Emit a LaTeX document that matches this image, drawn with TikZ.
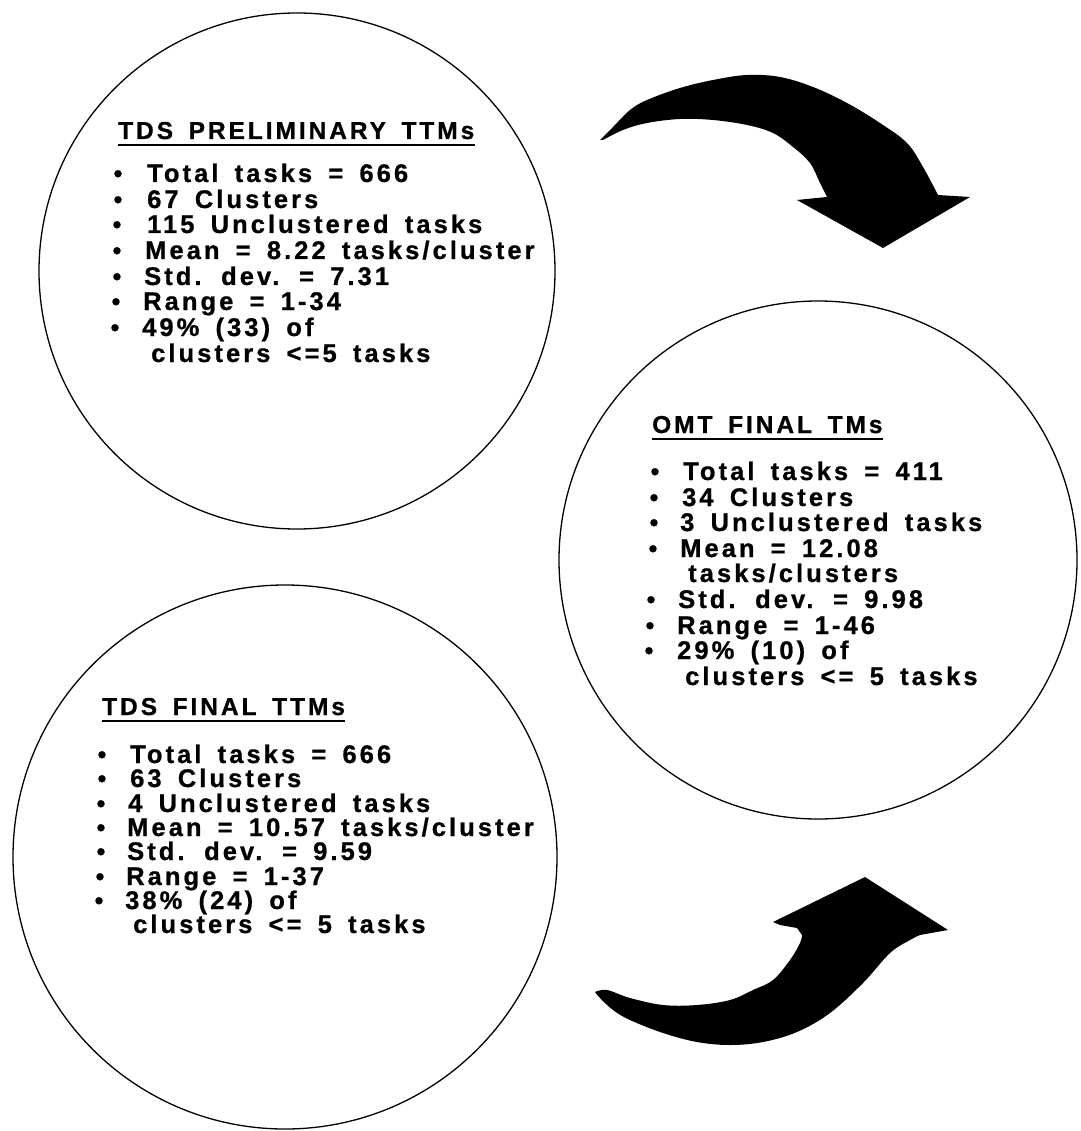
\documentclass[tikz,border=0pt]{standalone}
\usepackage{fontspec}
\newfontfamily\lsb[LetterSpace=12, WordSpace=1.6, BoldFeatures={FakeBold=0.8}]{Liberation Sans}
\tikzset{
  ring/.style={circle, draw=black, line width=1.3pt, inner sep=0pt},
  head/.style={font=\lsb\bfseries\fontsize{24.5}{25}\selectfont, anchor=base west, inner sep=0pt},
  item/.style={font=\lsb\bfseries\fontsize{25.5}{25}\selectfont, anchor=base west, inner sep=0pt},
  bul/.style={font=\lsb\bfseries\fontsize{25}{25}\selectfont, anchor=base, inner sep=0pt},
  uline/.style={line width=2.4pt},
  blob/.style={fill=black}
}
\begin{document}
\begin{tikzpicture}[x=1pt,y=-1pt]
\fill[white] (0,0) rectangle (1080,1131);
\useasboundingbox (0,0) rectangle (1080,1131);

% circles
\node[ring, minimum size=516pt] (c1) at (297,271) {};
\node[ring, minimum size=518pt] (c2) at (818,560) {};
\node[ring, minimum size=544pt] (c3) at (285,857) {};

% ---- circle 1
\node[head] (h1) at (118,139) {TDS PRELIMINARY TTMs};
\draw[uline] ([yshift=-6pt]h1.base west) -- ([yshift=-6pt]h1.base east);
\node[bul] (b1a) at (118,182) {•};
\node[item] (t1a) at (147,182) {Total tasks = 666};
\node[bul] (b1b) at (118,208) {•};
\node[item] (t1b) at (147,208) {67 Clusters};
\node[bul] (b1c) at (117,233) {•};
\node[item] (t1c) at (147,233) {115 Unclustered tasks};
\node[bul] (b1d) at (117,259) {•};
\node[item] (t1d) at (145,259) {Mean = 8.22 tasks/cluster};
\node[bul] (b1e) at (117,285) {•};
\node[item] (t1e) at (144,285) {Std. dev. = 7.31};
\node[bul] (b1f) at (116,310) {•};
\node[item] (t1f) at (143,310) {Range = 1-34};
\node[bul] (b1g) at (115,336) {•};
\node[item] (t1g) at (142,336) {49\% (33) of};
\node[item] (t1h) at (151,362) {clusters <=5 tasks};

% ---- circle 2
\node[head] (h2) at (652,433) {OMT FINAL TMs};
\draw[uline] ([yshift=-6pt]h2.base west) -- ([yshift=-6pt]h2.base east);
\node[bul] (b2a) at (655,480) {•};
\node[item] (t2a) at (683,480) {Total tasks = 411};
\node[bul] (b2b) at (654,506) {•};
\node[item] (t2b) at (682,506) {34 Clusters};
\node[bul] (b2c) at (654,531) {•};
\node[item] (t2c) at (680,531) {3 Unclustered tasks};
\node[bul] (b2d) at (653,557) {•};
\node[item] (t2d) at (680,557) {Mean = 12.08};
\node[item] (t2e) at (688,582) {tasks/clusters};
\node[bul] (b2f) at (651,608) {•};
\node[item] (t2f) at (678,608) {Std. dev. = 9.98};
\node[bul] (b2g) at (650,634) {•};
\node[item] (t2g) at (677,634) {Range = 1-46};
\node[bul] (b2h) at (649,659) {•};
\node[item] (t2h) at (677,659) {29\% (10) of};
\node[item] (t2i) at (685,685) {clusters <= 5 tasks};

% ---- circle 3
\node[head] (h3) at (102,715) {TDS FINAL TTMs};
\draw[uline] ([yshift=-6pt]h3.base west) -- ([yshift=-6pt]h3.base east);
\node[bul] (b3a) at (102,763) {•};
\node[item] (t3a) at (130,763) {Total tasks = 666};
\node[bul] (b3b) at (102,787) {•};
\node[item] (t3b) at (130,787) {63 Clusters};
\node[bul] (b3c) at (101,812) {•};
\node[item] (t3c) at (128,812) {4 Unclustered tasks};
\node[bul] (b3d) at (101,836) {•};
\node[item] (t3d) at (127,836) {Mean = 10.57 tasks/cluster};
\node[bul] (b3e) at (101,860) {•};
\node[item] (t3e) at (127,860) {Std. dev. = 9.59};
\node[bul] (b3f) at (100,885) {•};
\node[item] (t3f) at (126,885) {Range = 1-37};
\node[bul] (b3g) at (99,909) {•};
\node[item] (t3g) at (125,909) {38\% (24) of};
\node[item] (t3h) at (133,933) {clusters <= 5 tasks};

% ---- top curved arrow
\fill[blob] plot[smooth, tension=0.6] coordinates {(600,140) (613,127) (630,110) (647,100) (680,88) (713,80) (747,75) (780,77) (813,87) (847,103) (880,123) (907,143) (923,167) (938,195)}
  -- (970,197) -- (883,248) -- (797,200) -- (827,197)
  -- plot[smooth, tension=0.6] coordinates {(827,197) (820,183) (810,163) (793,147) (773,133) (747,125) (713,120) (680,119) (647,123) (623,130) (603,140)} -- cycle;

% ---- bottom curved arrow
\fill[blob] plot[smooth, tension=0.6] coordinates {(595,992) (600,998) (613,1010) (630,1020) (663,1033) (697,1042) (730,1045) (763,1042) (797,1032) (830,1013) (863,983) (890,953) (910,940) (920,935)}
  -- (948,930) -- (865,877) -- (773,922) -- (780,925) -- (797,928) -- (802,935)
  -- plot[smooth, tension=0.6] coordinates {(802,935) (800,943) (790,960) (773,980) (753,990) (730,1000) (697,1005) (663,1005) (630,998) (607,990) (595,992)} -- cycle;
\end{tikzpicture}
\end{document}
